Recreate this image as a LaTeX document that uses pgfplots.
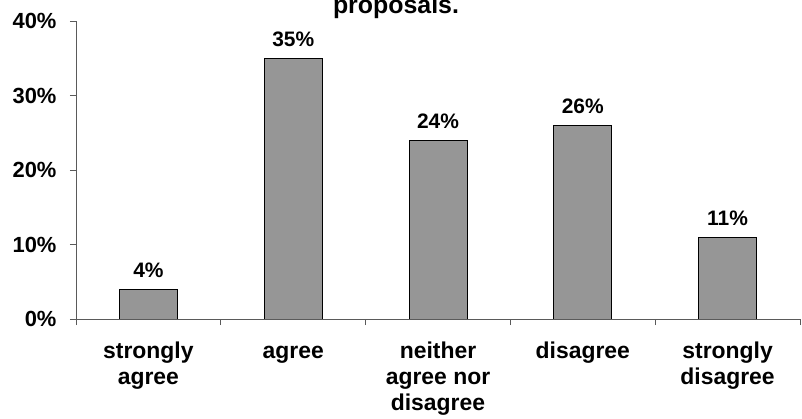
\documentclass[border=0pt]{standalone}
\usepackage{fontspec}
\setmainfont{Liberation Sans}
\usepackage{pgfplots}
\pgfplotsset{compat=1.18}
\definecolor{bargray}{RGB}{150,150,150}
\definecolor{axgray}{RGB}{90,90,90}
\begin{document}
\begin{tikzpicture}
\begin{axis}[
  at={(76bp,100bp)}, anchor=south west,
  scale only axis, width=724bp, height=298bp,
  xmin=0.5, xmax=5.5, ymin=0, ymax=40,
  axis x line=bottom, axis y line=left,
  axis line style={-, draw=axgray, line width=0.9bp},
  tick style={draw=axgray, line width=0.9bp},
  tick align=outside,
  major tick length=6bp,
  xtick={0.5,1.5,2.5,3.5,4.5,5.5},
  x tick label as interval,
  xticklabels={{\strut strongly\\agree},{\strut agree},{\strut neither\\agree nor\\disagree},{\strut disagree},{\strut strongly\\disagree}},
  x tick label style={align=center, font=\bfseries\fontsize{23}{26}\selectfont, yshift=-12bp},
  ytick={0,10,20,30,40},
  yticklabels={0\%,10\%,20\%,30\%,40\%},
  y tick label style={font=\bfseries\fontsize{22}{25}\selectfont, xshift=-10bp},
  ybar, bar width=58bp,
  nodes near coords={\pgfmathprintnumber[assume math mode=true]{\pgfplotspointmeta}\%},
  nodes near coords style={font=\bfseries\fontsize{21}{24}\selectfont, anchor=base, yshift=12bp, text=black},
]
\addplot[fill=bargray, draw=black, line width=0.9bp] coordinates {(1,4) (2,35) (3,24) (4,26) (5,11)};
\end{axis}
\node[anchor=base, font=\bfseries\fontsize{25}{28}\selectfont] at (396bp,405bp) {proposals.};
\pgfresetboundingbox
\path[use as bounding box] (0,0) rectangle (802bp,419bp);
\end{tikzpicture}
\end{document}
